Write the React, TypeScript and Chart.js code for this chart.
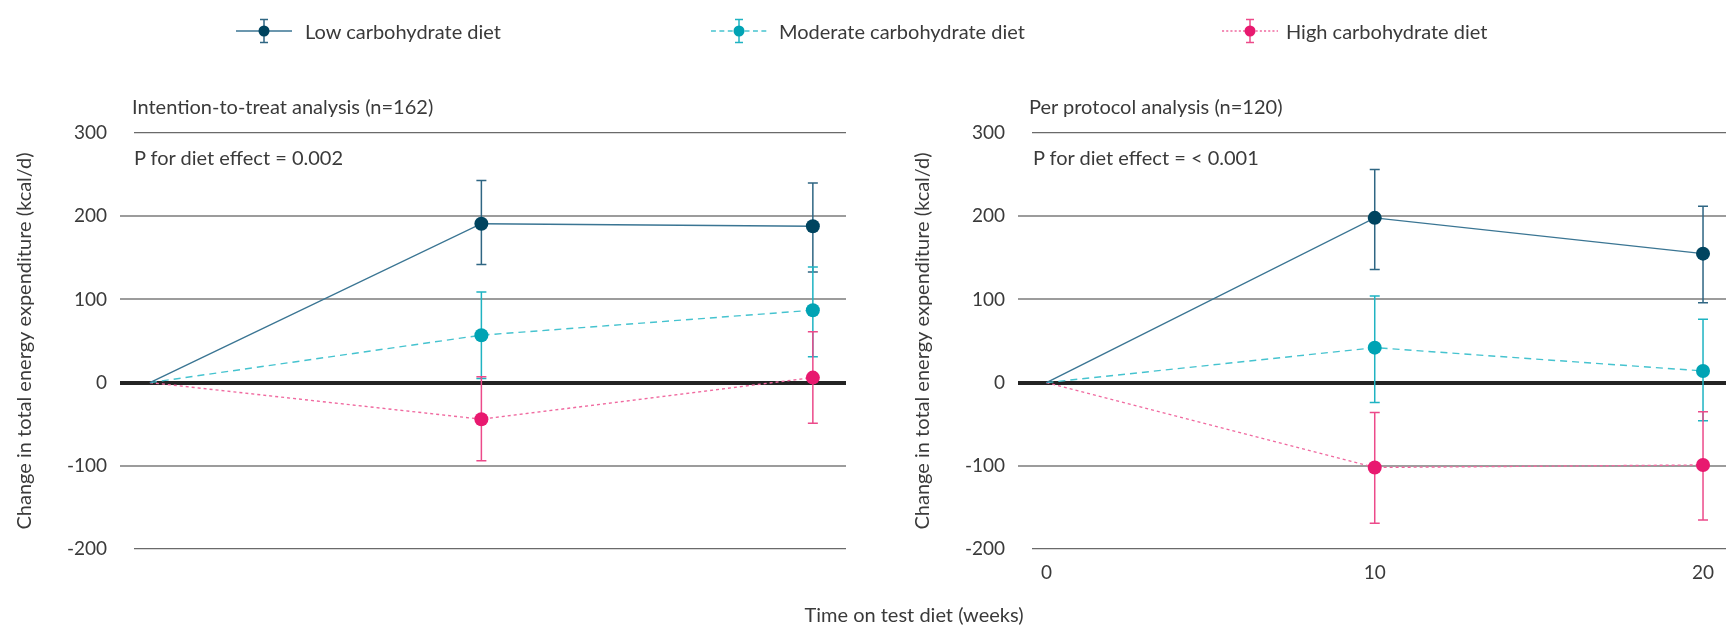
import React, { useEffect, useRef } from 'react';
import { Chart, registerables } from 'chart.js';

Chart.register(...registerables);

// ---------- data ----------
const weeks = [0, 10, 20];
const seriesNames = ['Low carbohydrate diet', 'Moderate carbohydrate diet', 'High carbohydrate diet'];
const yTicks = [-200, -100, 0, 100, 200, 300];
const xTickLabels = [0, 10, 20];

// Intention-to-treat
const ittLow = [0, 191, 188];
const ittLowLower = [null, 142, 133];
const ittLowUpper = [null, 243, 240];
const ittModerate = [0, 57, 87];
const ittModerateLower = [null, 5, 31];
const ittModerateUpper = [null, 109, 139];
const ittHigh = [0, -44, 6];
const ittHighLower = [null, -94, -49];
const ittHighUpper = [null, 7, 61];

// Per protocol
const ppLow = [0, 198, 155];
const ppLowLower = [null, 136, 96];
const ppLowUpper = [null, 256, 212];
const ppModerate = [0, 42, 14];
const ppModerateLower = [null, -24, -46];
const ppModerateUpper = [null, 104, 76];
const ppHigh = [0, -102, -99];
const ppHighLower = [null, -169, -165];
const ppHighUpper = [null, -36, -35];

// ---------- styles ----------
const FONT = 'Lato, "Noto Sans", sans-serif';
const TEXT = '#3a3a3a';
const styles = [
  { point: '#00445f', line: '#3a7593', err: '#2f6683', dash: [] as number[] },
  { point: '#00a3b4', line: '#45c3cf', err: '#1fb3c2', dash: [7, 5] },
  { point: '#e8196f', line: '#f06aa0', err: '#ec4a8a', dash: [3, 3] },
];

const PLOT_TOP = 133;
const PLOT_BOTTOM = 549;
const X_AXIS_H = 40;

const errorBarPlugin = {
  id: 'errorBars',
  beforeDatasetsDraw(chart: any) {
    const ctx = chart.ctx;
    const ys = chart.scales.y;
    chart.data.datasets.forEach((ds: any, i: number) => {
      const meta = chart.getDatasetMeta(i);
      (ds.errLower || []).forEach((lo: number | null, j: number) => {
        const hi = ds.errUpper[j];
        if (lo == null || hi == null) return;
        const px = meta.data[j].x;
        const y1 = ys.getPixelForValue(lo);
        const y2 = ys.getPixelForValue(hi);
        ctx.save();
        ctx.strokeStyle = ds.errColor;
        ctx.lineWidth = 1.5;
        ctx.setLineDash([]);
        ctx.beginPath();
        ctx.moveTo(px, y1);
        ctx.lineTo(px, y2);
        ctx.moveTo(px - 5, y1);
        ctx.lineTo(px + 5, y1);
        ctx.moveTo(px - 5, y2);
        ctx.lineTo(px + 5, y2);
        ctx.stroke();
        ctx.restore();
      });
    });
  },
};

function gridStyle(v: number | undefined) {
  if (v === 0) return { color: '#242424', width: 4, tick: '#242424' };
  if (v === 300 || v === -200) return { color: '#6a6a6a', width: 1.3, tick: 'rgba(0,0,0,0)' };
  return { color: '#9c9c9c', width: 2, tick: '#9c9c9c' };
}

type PanelProps = {
  left: number;
  width: number;
  yAxisWidth: number;
  yTitlePad: number;
  rightPad: number;
  xMin: number;
  xMax: number;
  showXTicks: boolean;
  values: number[][];
  lowers: (number | null)[][];
  uppers: (number | null)[][];
};

function Panel(p: PanelProps) {
  const ref = useRef<HTMLCanvasElement>(null);
  useEffect(() => {
    const datasets = p.values.map((vals, i) => ({
      label: seriesNames[i],
      data: weeks.map((w, j) => ({ x: w, y: vals[j] })),
      borderColor: styles[i].line,
      borderWidth: 1.4,
      borderDash: styles[i].dash,
      pointRadius: weeks.map((w) => (w === 0 ? 0 : 7)),
      pointBackgroundColor: styles[i].point,
      pointBorderWidth: 0,
      pointHoverRadius: 7,
      tension: 0,
      fill: false,
      errLower: p.lowers[i],
      errUpper: p.uppers[i],
      errColor: styles[i].err,
    }));
    const chart = new Chart(ref.current as HTMLCanvasElement, {
      type: 'line',
      data: { datasets } as any,
      plugins: [errorBarPlugin],
      options: {
        responsive: false,
        animation: false,
        devicePixelRatio: 1,
        layout: { padding: { top: PLOT_TOP, bottom: 627 - PLOT_BOTTOM - X_AXIS_H, left: 0, right: p.rightPad } },
        plugins: { legend: { display: false }, tooltip: { enabled: false } },
        scales: {
          x: {
            type: 'linear',
            min: p.xMin,
            max: p.xMax,
            afterBuildTicks: (s: any) => {
              s.ticks = xTickLabels.map((value) => ({ value }));
            },
            afterFit: (s: any) => {
              s.height = X_AXIS_H;
            },
            grid: { display: false, drawTicks: false },
            border: { display: false },
            ticks: {
              display: p.showXTicks,
              padding: 12,
              color: TEXT,
              font: { family: FONT, size: 19 },
              maxRotation: 0,
              autoSkip: false,
            },
          },
          y: {
            type: 'linear',
            min: yTicks[0],
            max: yTicks[yTicks.length - 1],
            afterBuildTicks: (s: any) => {
              s.ticks = yTicks.map((value) => ({ value }));
            },
            afterFit: (s: any) => {
              s.width = p.yAxisWidth;
            },
            border: { display: false },
            grid: {
              drawTicks: true,
              tickLength: 14,
              color: (c: any) => gridStyle(c.tick?.value).color,
              lineWidth: (c: any) => gridStyle(c.tick?.value).width,
              tickColor: (c: any) => gridStyle(c.tick?.value).tick,
              tickWidth: (c: any) => gridStyle(c.tick?.value).width,
            },
            ticks: {
              padding: 13,
              color: TEXT,
              font: { family: FONT, size: 19 },
            },
            title: {
              display: true,
              text: 'Change in total energy expenditure (kcal/d)',
              color: TEXT,
              font: { family: FONT, size: 20 },
              padding: { top: p.yTitlePad, bottom: 0 },
            },
          },
        },
      } as any,
    });
    return () => chart.destroy();
  }, []);
  return (
    <canvas
      ref={ref}
      width={p.width}
      height={627}
      style={{ position: 'absolute', left: p.left, top: 0, width: p.width, height: 627 }}
    />
  );
}

function LegendIcon({ i }: { i: number }) {
  const s = styles[i];
  return (
    <svg width={56} height={26} style={{ display: 'block' }}>
      <line x1={0} y1={13} x2={56} y2={13} stroke={s.line} strokeWidth={1.4}
        strokeDasharray={s.dash.length ? s.dash.map((d) => d * 0.7).join(' ') : undefined} />
      <line x1={28} y1={1.5} x2={28} y2={24.5} stroke={s.err} strokeWidth={1.5} />
      <line x1={24} y1={1.5} x2={32} y2={1.5} stroke={s.err} strokeWidth={1.5} />
      <line x1={24} y1={24.5} x2={32} y2={24.5} stroke={s.err} strokeWidth={1.5} />
      <circle cx={28} cy={13} r={5.5} fill={s.point} />
    </svg>
  );
}

const textStyle: React.CSSProperties = {
  position: 'absolute',
  fontFamily: FONT,
  fontSize: 20,
  color: TEXT,
  lineHeight: '24px',
  whiteSpace: 'nowrap',
};

const legendIconX = [236, 711, 1222];
const legendTextX = [305, 779, 1286];

export default function App() {
  return (
    <div style={{ position: 'fixed', left: 0, top: 0, width: 1733, height: 627, background: '#fff', overflow: 'hidden' }}>
      <Panel
        left={0}
        width={866}
        yAxisWidth={134}
        yTitlePad={13}
        rightPad={20}
        xMin={-0.48}
        xMax={21}
        showXTicks={false}
        values={[ittLow, ittModerate, ittHigh]}
        lowers={[ittLowLower, ittModerateLower, ittHighLower]}
        uppers={[ittLowUpper, ittModerateUpper, ittHighUpper]}
      />
      <Panel
        left={866}
        width={867}
        yAxisWidth={166}
        yTitlePad={45}
        rightPad={0}
        xMin={-0.44}
        xMax={20.7}
        showXTicks={true}
        values={[ppLow, ppModerate, ppHigh]}
        lowers={[ppLowLower, ppModerateLower, ppHighLower]}
        uppers={[ppLowUpper, ppModerateUpper, ppHighUpper]}
      />
      {seriesNames.map((name, i) => (
        <React.Fragment key={name}>
          <div style={{ position: 'absolute', left: legendIconX[i], top: 18 }}>
            <LegendIcon i={i} />
          </div>
          <div style={{ ...textStyle, left: legendTextX[i], top: 19 }}>{name}</div>
        </React.Fragment>
      ))}
      <div style={{ ...textStyle, left: 132, top: 94 }}>Intention-to-treat analysis (n=162)</div>
      <div style={{ ...textStyle, left: 134, top: 145 }}>P for diet effect = 0.002</div>
      <div style={{ ...textStyle, left: 1029, top: 94 }}>Per protocol analysis (n=120)</div>
      <div style={{ ...textStyle, left: 1033, top: 145 }}>P for diet effect = &lt; 0.001</div>
      <div style={{ ...textStyle, left: 0, width: 1828, textAlign: 'center', top: 602 }}>Time on test diet (weeks)</div>
    </div>
  );
}
